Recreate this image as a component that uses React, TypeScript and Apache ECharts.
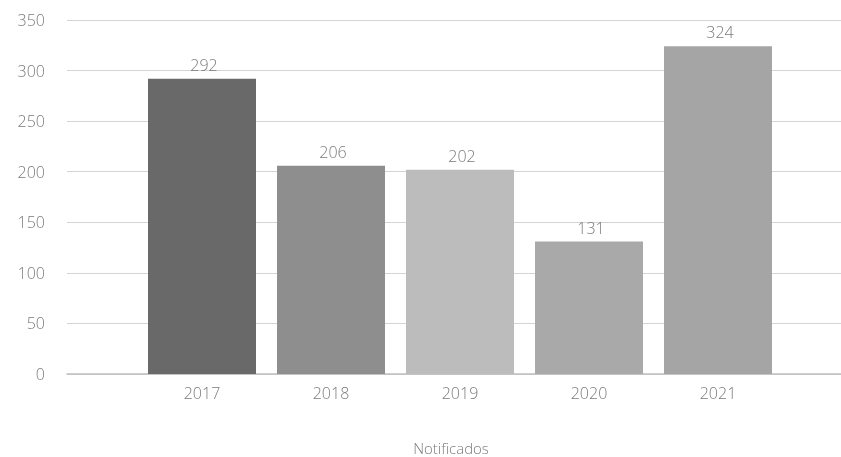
import React, { useEffect, useRef } from "react";
import * as echarts from "echarts";

const categories = ["2017", "2018", "2019", "2020", "2021"];
const values = [292, 206, 202, 131, 324];
const barColors = ["#696969", "#8e8e8e", "#bcbcbc", "#a9a9a9", "#a5a5a5"];
const seriesName = "Notificados";

const FONT = "Open Sans";
const TEXT = "#7b7b7b";

export default function App() {
  const ref = useRef<HTMLDivElement>(null);
  useEffect(() => {
    if (!ref.current) return;
    const chart = echarts.init(ref.current, undefined, { renderer: "svg" });
    chart.setOption({
      animation: false,
      textStyle: { fontFamily: FONT },
      grid: [
        { left: 67, right: 0, top: 20, bottom: 83 },
        { left: 137.5, right: 58.5, top: 20, bottom: 83 },
      ],
      xAxis: [
        {
          type: "category",
          gridIndex: 0,
          data: categories,
          axisLine: { show: true, lineStyle: { color: "#bfbfbf", width: 1.5 } },
          axisTick: { show: false },
          axisLabel: { show: false },
        },
        {
          type: "category",
          gridIndex: 1,
          data: categories,
          axisLine: { show: false },
          axisTick: { show: false },
          axisLabel: { color: TEXT, fontSize: 16, fontWeight: 300, fontFamily: FONT, margin: 11 },
        },
      ],
      yAxis: [
        {
          type: "value",
          gridIndex: 0,
          min: 0,
          max: 350,
          interval: 50,
          axisLine: { show: false },
          axisTick: { show: false },
          axisLabel: { color: TEXT, fontSize: 16, fontWeight: 300, fontFamily: FONT, margin: 22 },
          splitLine: { lineStyle: { color: "#d4d4d4", width: 1 } },
        },
        {
          type: "value",
          gridIndex: 1,
          min: 0,
          max: 350,
          interval: 50,
          show: false,
          splitLine: { show: false },
        },
      ],
      series: [
        {
          name: seriesName,
          type: "bar",
          xAxisIndex: 1,
          yAxisIndex: 1,
          barWidth: 108,
          data: values.map((v, i) => ({ value: v, itemStyle: { color: barColors[i] } })),
          label: {
            show: true,
            position: "top",
            distance: 6,
            offset: [2, 0],
            color: TEXT,
            fontSize: 16,
            fontWeight: 300,
            fontFamily: FONT,
          },
        },
      ],
      graphic: [
        {
          type: "text",
          x: 451,
          y: 448,
          style: {
            text: seriesName,
            fill: TEXT,
            fontSize: 15,
            fontWeight: 300,
            fontFamily: FONT,
            align: "center",
            verticalAlign: "middle",
          },
        },
      ],
    });
    return () => chart.dispose();
  }, []);
  return (
    <div
      ref={ref}
      style={{ position: "fixed", left: 0, top: 0, width: 841, height: 457 }}
    />
  );
}
